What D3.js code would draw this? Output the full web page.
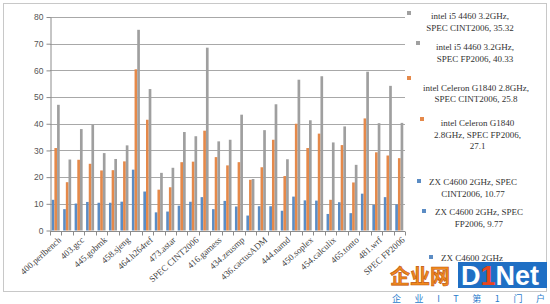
<!DOCTYPE html>
<html>
<head>
<meta charset="utf-8">
<script src="https://cdn.jsdelivr.net/npm/d3@7"></script>
<style>
  body { margin: 0; background: #fff; }
  svg { display: block; }
</style>
</head>
<body>
<svg id="chart"></svg>
<script>
const categories = [
  "400.perlbench", "401.bzip2", "403.gcc", "429.mcf", "445.gobmk", "456.hmmer",
  "458.sjeng", "462.libquantum", "464.h264ref", "471.omnetpp", "473.astar",
  "483.xalancbmk", "SPEC CINT2006", "410.bwaves", "416.gamess", "433.milc",
  "434.zeusmp", "435.gromacs", "436.cactusADM", "437.leslie3d", "444.namd",
  "447.dealII", "450.soplex", "453.povray", "454.calculix", "459.GemsFDTD",
  "465.tonto", "470.lbm", "481.wrf", "482.sphinx3", "SPEC FP2006"
];
const zxValues = [
  11.5, 8.0, 10.1, 10.7, 10.4, 10.4, 10.8, 22.8, 14.6, 6.8, 7.1, 9.3, 10.77,
  12.5, 8.0, 11.1, 9.0, 5.6, 9.1, 9.1, 7.4, 12.7, 11.3, 11.2, 6.2, 10.6, 6.5,
  13.8, 9.6, 12.5, 9.77
];
const celeronValues = [
  30.9, 18.1, 26.5, 25.0, 22.5, 22.6, 25.9, 60.4, 41.5, 15.3, 16.2, 25.6, 25.8,
  37.4, 27.5, 24.4, 25.6, 19.0, 23.7, 34.0, 20.4, 40.0, 30.9, 36.3, 11.5, 32.0,
  18.0, 42.0, 29.3, 28.1, 27.1
];
const i5Values = [
  47.1, 26.6, 38.0, 39.6, 29.0, 26.8, 31.9, 75.2, 53.0, 21.6, 23.5, 36.9, 35.32,
  68.5, 33.4, 34.0, 43.4, 19.3, 37.6, 47.3, 26.7, 56.5, 41.3, 57.8, 33.0, 39.0,
  24.6, 59.5, 40.2, 54.2, 40.33
];
const yTicks = [0, 10, 20, 30, 40, 50, 60, 70, 80];
const legendItems = [
  { lines: ["intel i5 4460 3.2GHz,", "SPEC CINT2006, 35.32"], color: "#a0a0a0" },
  { lines: ["intel i5 4460 3.2GHz,", "SPEC FP2006, 40.33"], color: "#a0a0a0" },
  { lines: ["intel Celeron G1840 2.8GHz,", "SPEC CINT2006, 25.8"], color: "#e5894a" },
  { lines: ["intel Celeron G1840", "2.8GHz, SPEC FP2006,", "27.1"], color: "#e5894a" },
  { lines: ["ZX C4600 2GHz, SPEC", "CINT2006, 10.77"], color: "#5b8cc4" },
  { lines: ["ZX C4600 2GHz, SPEC", "FP2006, 9.77"], color: "#5b8cc4" },
  { lines: ["ZX C4600 2GHz"], color: "#5b8cc4" }
];

const width = 550, height = 304;
const margin = { top: 17, right: 145, bottom: 73, left: 50 };
const series = ["zx", "celeron", "i5"];
const colors = { zx: "#5b8cc4", celeron: "#e5894a", i5: "#9f9f9f" };

const rows = categories.map((c, i) => ({
  name: c, zx: zxValues[i], celeron: celeronValues[i], i5: i5Values[i]
}));

const svg = d3.select("#chart").attr("width", width).attr("height", height);
svg.append("rect").attr("width", width).attr("height", height).attr("fill", "#fff");
// outer frame
svg.append("rect")
  .attr("x", 3.5).attr("y", 3.5).attr("width", 543).attr("height", 288)
  .attr("fill", "none").attr("stroke", "#c8c8c8");

const x = d3.scaleBand()
  .domain(categories)
  .range([margin.left, width - margin.right])
  .paddingInner(0.3)
  .paddingOuter(0.15);
const x1 = d3.scaleBand().domain(series).range([0, x.bandwidth()]);
const y = d3.scaleLinear().domain([0, 80]).range([height - margin.bottom - 0.5, margin.top]);

// gridlines
svg.append("g")
  .selectAll("line")
  .data(yTicks.slice(1))
  .join("line")
  .attr("x1", margin.left).attr("x2", width - margin.right)
  .attr("y1", (d) => Math.round(y(d)) + 0.5).attr("y2", (d) => Math.round(y(d)) + 0.5)
  .attr("stroke", "#a8a8a8");

// bars
svg.append("g")
  .selectAll("g")
  .data(rows)
  .join("g")
  .attr("transform", (d) => `translate(${x(d.name)},0)`)
  .selectAll("rect")
  .data((d) => series.map((k) => ({ key: k, value: d[k] })))
  .join("rect")
  .attr("x", (d) => x1(d.key))
  .attr("width", x1.bandwidth())
  .attr("y", (d) => y(d.value))
  .attr("height", (d) => y(0) - y(d.value))
  .attr("fill", (d) => colors[d.key]);

// y axis
const yAxis = svg.append("g")
  .attr("transform", `translate(${margin.left + 0.5},0)`)
  .call(d3.axisLeft(y).tickValues(yTicks).tickSize(4).tickPadding(3).tickSizeOuter(0));
yAxis.select(".domain").attr("stroke", "#8c8c8c");
yAxis.selectAll(".tick line").attr("stroke", "#8c8c8c");
yAxis.selectAll(".tick text")
  .attr("fill", "#555")
  .style("font-family", "'Liberation Sans', Arial, sans-serif")
  .style("font-size", "8.5px");

// x axis
const step = x.step();
const xAxis = svg.append("g")
  .attr("transform", `translate(0,${Math.round(y(0)) + 0.5})`);
xAxis.append("line")
  .attr("x1", margin.left).attr("x2", width - margin.right)
  .attr("stroke", "#8c8c8c");
xAxis.selectAll(".tk")
  .data(d3.range(categories.length + 1))
  .join("line")
  .attr("class", "tk")
  .attr("x1", (i) => Math.round(margin.left + i * step) + 0.5)
  .attr("x2", (i) => Math.round(margin.left + i * step) + 0.5)
  .attr("y1", 0).attr("y2", 4)
  .attr("stroke", "#8c8c8c");

svg.append("g")
  .selectAll("text")
  .data(categories.filter((d, i) => i % 2 === 0))
  .join("text")
  .attr("transform", (d) => `translate(${x(d) + x.bandwidth() / 2 + 4},${y(0) + 8}) rotate(-42)`)
  .attr("text-anchor", "end")
  .attr("dy", "0.35em")
  .attr("fill", "#444")
  .style("font-family", "'Liberation Serif', 'Times New Roman', serif")
  .style("font-size", "9px")
  .text((d) => d);

// legend
const legendPos = [
  { mx: 409, my: 13, tx: 470, ty: 19 },
  { mx: 418, my: 43, tx: 475, ty: 50 },
  { mx: 409, my: 78, tx: 476, ty: 90.5 },
  { mx: 422, my: 119, tx: 477.5, ty: 126 },
  { mx: 419, my: 181, tx: 473, ty: 185 },
  { mx: 424, my: 211, tx: 479, ty: 215 },
  { mx: 431, my: 257, tx: 472, ty: 260.5 }
];
const legend = svg.append("g")
  .selectAll("g")
  .data(legendItems)
  .join("g");
legend.append("rect")
  .attr("x", (d, i) => legendPos[i].mx - 2)
  .attr("y", (d, i) => legendPos[i].my - 2)
  .attr("width", 4).attr("height", 4)
  .attr("fill", (d) => d.color);
legend.append("text")
  .attr("text-anchor", "middle")
  .attr("fill", "#333")
  .style("font-family", "'Liberation Serif', 'Times New Roman', serif")
  .style("font-size", "9px")
  .selectAll("tspan")
  .data((d, i) => d.lines.map((l) => ({ l, p: legendPos[i] })))
  .join("tspan")
  .attr("x", (d) => d.p.tx)
  .attr("y", (d, j) => d.p.ty + j * 11.5)
  .text((d) => d.l);

// watermark
const wm = svg.append("g");
wm.append("text")
  .attr("x", 390).attr("y", 284)
  .attr("fill", "#f08a1c").attr("stroke", "#c0540f").attr("stroke-width", 0.6)
  .style("font-family", "'Noto Sans CJK SC', sans-serif")
  .style("font-weight", "bold").style("font-size", "20px")
  .text("企业网");
wm.append("rect")
  .attr("x", 458).attr("y", 262).attr("width", 89).attr("height", 26)
  .attr("fill", "#1f6fc4");
const logo = wm.append("text")
  .attr("x", 461).attr("y", 285)
  .attr("fill", "#fff")
  .style("font-family", "'Liberation Sans', Arial, sans-serif")
  .style("font-weight", "bold").style("font-size", "27px");
logo.append("tspan").text("D");
logo.append("tspan").attr("fill", "#e8461e").text("1");
logo.append("tspan").text("Net");
wm.append("text")
  .attr("x", 392).attr("y", 302)
  .attr("fill", "#2b7ccc")
  .attr("textLength", 153)
  .style("font-family", "'Noto Sans CJK SC', sans-serif")
  .style("font-size", "9px")
  .text("企 业 I T 第 1 门 户");
</script>
</body>
</html>
